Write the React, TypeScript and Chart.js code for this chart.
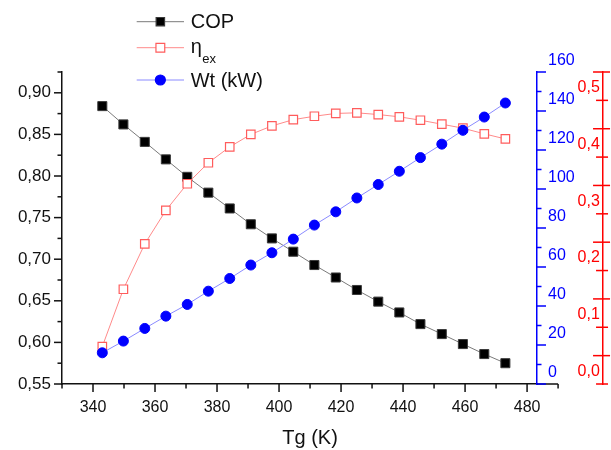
import { useEffect, useRef } from 'react';
import { Chart, registerables } from 'chart.js';

Chart.register(...registerables);

// ---- data ----
const tgK = [343.0, 349.8, 356.7, 363.5, 370.4, 377.2, 384.1, 390.9, 397.7, 404.6, 411.4, 418.3, 425.1, 432.0, 438.8, 445.6, 452.5, 459.3, 466.2, 473.0];
const copValues = [0.884, 0.862, 0.841, 0.820, 0.799, 0.780, 0.761, 0.742, 0.725, 0.709, 0.693, 0.678, 0.663, 0.649, 0.636, 0.622, 0.610, 0.598, 0.586, 0.575];
const etaExValues = [0.066, 0.167, 0.247, 0.306, 0.353, 0.390, 0.418, 0.440, 0.455, 0.466, 0.472, 0.477, 0.478, 0.475, 0.471, 0.465, 0.458, 0.451, 0.441, 0.432];
const wtValues = [16.0, 22.0, 28.5, 34.8, 40.8, 47.6, 54.1, 61.0, 67.3, 74.3, 81.5, 88.3, 95.4, 102.3, 109.1, 116.1, 123.0, 130.1, 136.9, 144.1];

const seriesLabels = ['COP', 'η', 'Wt (kW)'];
const seriesSubscripts = ['', 'ex', ''];
const xTitle = 'Tg (K)';

// axis ranges / tick steps
const xRange = [330, 483.2];
const xFullMax = 490;
const xMajorStep = 20;
const xMinorStep = 10;
const copRange = [0.55, 0.925];
const copMajorStep = 0.05;
const wtRange = [0, 160];
const wtMajorStep = 20;
const etaRange = [0, 0.55];
const etaMajorStep = 0.1;
const redAxisAtX = 504.5;

const FONT = 'Arial, "Liberation Sans", Helvetica, sans-serif';
const BLACK = '#111111';
const BLUE = '#0000ff';
const RED = '#ff0000';

const seriesStyles = [
  { line: '#7a7a7a', fill: '#000000', border: '#3a3a3a', shape: 'rect' },
  { line: '#ff8a8a', fill: '#ffffff', border: '#ff5c5c', shape: 'rect' },
  { line: '#8a8aff', fill: '#0000ff', border: '#0000ff', shape: 'circle' },
];

function seg(ctx: CanvasRenderingContext2D, x1: number, y1: number, x2: number, y2: number) {
  ctx.beginPath();
  ctx.moveTo(x1, y1);
  ctx.lineTo(x2, y2);
  ctx.stroke();
}

function marker(ctx: CanvasRenderingContext2D, idx: number, cx: number, cy: number) {
  const st = seriesStyles[idx];
  ctx.fillStyle = st.fill;
  ctx.strokeStyle = st.border;
  ctx.lineWidth = 1.2;
  ctx.beginPath();
  if (st.shape === 'circle') {
    ctx.arc(cx, cy, 5, 0, Math.PI * 2);
  } else {
    const h = idx === 0 ? 4.2 : 4.4;
    ctx.rect(cx - h, cy - h, 2 * h, 2 * h);
  }
  ctx.fill();
  ctx.stroke();
}

const decorPlugin = {
  id: 'originDecor',
  afterDraw(chart: any) {
    const ctx: CanvasRenderingContext2D = chart.ctx;
    const { x, y, yBlue, yRed } = chart.scales;
    const area = chart.chartArea;
    ctx.save();
    ctx.lineCap = 'butt';

    // ---- x axis: extension + ticks ----
    ctx.strokeStyle = BLACK;
    ctx.lineWidth = 1.5;
    const xEnd = x.getPixelForValue(xFullMax);
    seg(ctx, area.right, area.bottom, xEnd, area.bottom);
    for (let v = xRange[0]; v <= xFullMax + 0.001; v += xMinorStep) {
      const px = x.getPixelForValue(v);
      const major = Math.abs(((v - 340) % xMajorStep)) < 0.001;
      seg(ctx, px, area.bottom, px, area.bottom + (major ? 8 : 4.5));
    }

    // ---- left axis ticks ----
    let k = 0;
    for (let v = copRange[0]; v <= copRange[1] + 1e-6; v += copMajorStep / 2, k++) {
      const py = y.getPixelForValue(v);
      seg(ctx, area.left, py, area.left - (k % 2 === 0 ? 8 : 4.5), py);
    }

    // ---- blue axis ticks ----
    ctx.strokeStyle = BLUE;
    k = 0;
    for (let v = wtRange[0]; v <= wtRange[1] + 1e-6; v += wtMajorStep / 2, k++) {
      const py = yBlue.getPixelForValue(v);
      seg(ctx, area.right, py, area.right + (k % 2 === 0 ? 9 : 4.5), py);
    }

    // ---- red axis ticks (crossing) ----
    ctx.strokeStyle = RED;
    const rx = x.getPixelForValue(redAxisAtX);
    k = 0;
    for (let v = etaRange[0]; v <= etaRange[1] + 1e-6; v += etaMajorStep / 2, k++) {
      const py = yRed.getPixelForValue(v);
      if (k % 2 === 1) seg(ctx, rx - 10, py, rx + 7, py);
      else seg(ctx, rx - 7, py, rx + 5, py);
    }

    // ---- x title ----
    ctx.fillStyle = BLACK;
    ctx.font = `20px ${FONT}`;
    ctx.textAlign = 'center';
    ctx.textBaseline = 'middle';
    const cx = (x.getPixelForValue(xRange[0]) + xEnd) / 2;
    ctx.fillText(xTitle, cx, 438);

    // ---- legend ----
    const rows = [21.7, 47.7, 80];
    const lx1 = 136.7, lx2 = 184, tx = 190.7;
    for (let i = 0; i < seriesLabels.length; i++) {
      const ry = rows[i];
      ctx.strokeStyle = seriesStyles[i].line;
      ctx.lineWidth = 1;
      seg(ctx, lx1, ry, lx2, ry);
      marker(ctx, i, (lx1 + lx2) / 2, ry);
      ctx.fillStyle = BLACK;
      ctx.textAlign = 'left';
      if (seriesSubscripts[i]) {
        ctx.font = `20px ${FONT}`;
        ctx.textBaseline = 'alphabetic';
        ctx.fillText(seriesLabels[i], tx, ry + 5);
        const w = ctx.measureText(seriesLabels[i]).width;
        ctx.font = `13px ${FONT}`;
        ctx.fillText(seriesSubscripts[i], tx + w + 0.5, ry + 15);
      } else {
        ctx.font = `20px ${FONT}`;
        ctx.textBaseline = 'middle';
        ctx.fillText(seriesLabels[i], tx, ry + 1);
      }
    }
    ctx.restore();
  },
};

export default function App() {
  const ref = useRef<HTMLCanvasElement | null>(null);

  useEffect(() => {
    if (!ref.current) return;
    const tickFont = { family: FONT, size: 16 };
    const hidden = 'rgba(0,0,0,0)';
    const chart = new Chart(ref.current, {
      type: 'line',
      data: {
        datasets: [
          {
            label: 'COP',
            data: tgK.map((t, i) => ({ x: t, y: copValues[i] })),
            yAxisID: 'y',
            borderColor: seriesStyles[0].line,
            borderWidth: 1,
            pointStyle: 'rect',
            pointRadius: 6.4,
            pointBackgroundColor: seriesStyles[0].fill,
            pointBorderColor: seriesStyles[0].border,
            pointBorderWidth: 1,
            order: 3,
          },
          {
            label: 'ηex',
            data: tgK.map((t, i) => ({ x: t, y: etaExValues[i] })),
            yAxisID: 'yRed',
            borderColor: seriesStyles[1].line,
            borderWidth: 1,
            pointStyle: 'rect',
            pointRadius: 6,
            pointBackgroundColor: seriesStyles[1].fill,
            pointBorderColor: seriesStyles[1].border,
            pointBorderWidth: 1.2,
            order: 2,
          },
          {
            label: 'Wt (kW)',
            data: tgK.map((t, i) => ({ x: t, y: wtValues[i] })),
            yAxisID: 'yBlue',
            borderColor: seriesStyles[2].line,
            borderWidth: 1,
            pointStyle: 'circle',
            pointRadius: 5,
            pointBackgroundColor: seriesStyles[2].fill,
            pointBorderColor: seriesStyles[2].border,
            pointBorderWidth: 1,
            order: 1,
          },
        ],
      },
      options: {
        animation: false,
        responsive: true,
        maintainAspectRatio: false,
        layout: { padding: { top: 72, left: 0, right: 0, bottom: 0 } },
        plugins: { legend: { display: false }, tooltip: { enabled: false } },
        scales: {
          x: {
            type: 'linear',
            position: 'bottom',
            min: xRange[0],
            max: xRange[1],
            afterFit: (s: any) => { s.height = 66; },
            ticks: {
              stepSize: xMajorStep,
              includeBounds: false,
              autoSkip: false,
              maxRotation: 0,
              padding: 6,
              font: tickFont,
              color: BLACK,
              callback: (v: any) => String(v),
            },
            grid: { drawOnChartArea: false, tickLength: 8, tickColor: hidden },
            border: { color: BLACK, width: 1.5 },
          },
          y: {
            type: 'linear',
            position: 'left',
            min: copRange[0],
            max: copRange[1],
            afterFit: (s: any) => { s.width = 62; },
            ticks: {
              stepSize: copMajorStep,
              includeBounds: false,
              autoSkip: false,
              padding: 3,
              font: { family: FONT, size: 17 },
              color: BLACK,
              callback: (v: any) => Number(v).toFixed(2).replace('.', ','),
            },
            grid: { drawOnChartArea: false, tickLength: 8, tickColor: hidden },
            border: { color: BLACK, width: 1.5 },
          },
          yBlue: {
            type: 'linear',
            axis: 'y',
            position: 'right',
            min: wtRange[0],
            max: wtRange[1],
            afterFit: (s: any) => { s.width = 74; },
            ticks: {
              stepSize: wtMajorStep,
              includeBounds: false,
              autoSkip: false,
              padding: 2,
              labelOffset: -11.5,
              font: tickFont,
              color: BLUE,
              callback: (v: any) => String(v),
            },
            grid: { drawOnChartArea: false, tickLength: 9, tickColor: hidden },
            border: { color: BLUE, width: 1.5 },
          },
          yRed: {
            type: 'linear',
            axis: 'y',
            position: { x: redAxisAtX },
            min: etaRange[0],
            max: etaRange[1],
            ticks: {
              stepSize: etaMajorStep,
              includeBounds: false,
              autoSkip: false,
              labelOffset: -12.5,
              font: tickFont,
              color: RED,
              callback: (v: any) => Number(v).toFixed(1).replace('.', ',') + '\u2009',
            },
            grid: { drawOnChartArea: false, drawTicks: false, tickColor: hidden },
            border: { color: RED, width: 1.5 },
          },
        },
      } as any,
      plugins: [decorPlugin],
    });
    return () => chart.destroy();
  }, []);

  return (
    <div style={{ position: 'absolute', left: 0, top: 0, width: 611, height: 450, background: '#ffffff' }}>
      <canvas ref={ref} />
    </div>
  );
}
